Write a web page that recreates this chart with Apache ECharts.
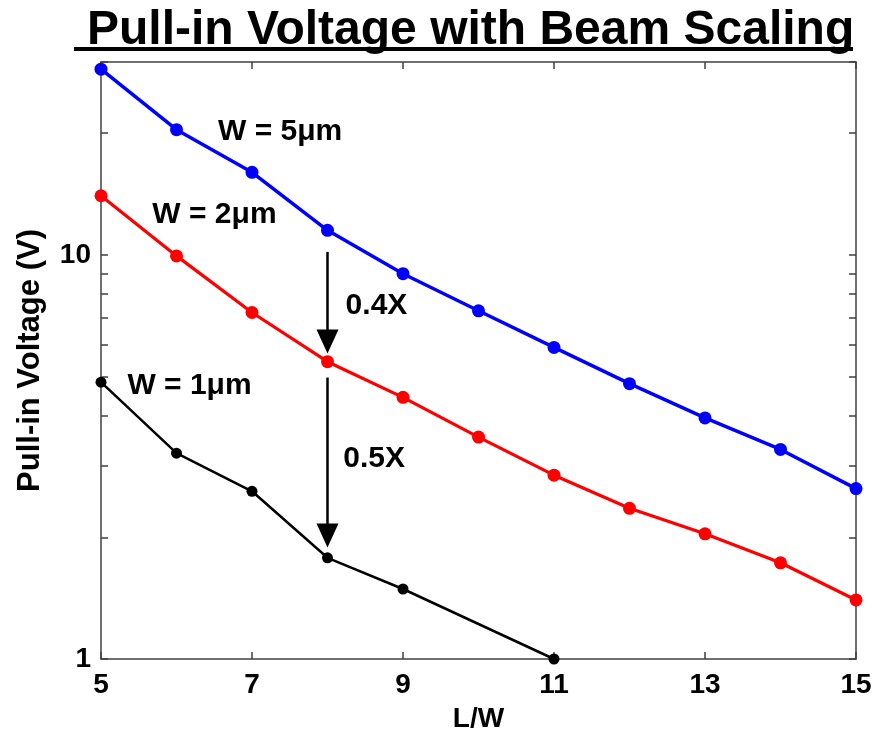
<!DOCTYPE html>
<html>
<head>
<meta charset="utf-8">
<script src="https://cdn.jsdelivr.net/npm/echarts@6/dist/echarts.min.js"></script>
<style>html,body{margin:0;padding:0;background:#fff}#c{width:875px;height:732px}</style>
</head>
<body>
<div id="c"></div>
<script>
const titleText = 'Pull-in Voltage with Beam Scaling';
const xName = 'L/W';
const yName = 'Pull-in Voltage (V)';
const lw = [5, 6, 7, 8, 9, 10, 11, 12, 13, 14, 15];
const w5 = [28.8, 20.4, 16.0, 11.5, 8.98, 7.27, 5.90, 4.80, 3.95, 3.30, 2.64];
const w2 = [14.0, 9.94, 7.20, 5.44, 4.44, 3.54, 2.85, 2.36, 2.04, 1.73, 1.40];
const lw1 = [5, 6, 7, 8, 9, 11];
const w1 = [4.84, 3.23, 2.60, 1.78, 1.49, 1.0];
const yLabelValues = [1, 10];
const yTickValues = [1, 2, 3, 4, 5, 6, 7, 8, 9, 10, 20, 30];
// annotations: [text, x, y]
const notes = [
  ['W = 5\u03bcm', 6.55, 20.2],
  ['W = 2\u03bcm', 5.68, 12.56],
  ['W = 1\u03bcm', 5.35, 4.75],
  ['0.4X', 8.24, 7.48],
  ['0.5X', 8.21, 3.13]
];
// arrows: [x, yFrom, yTo]
const arrows = [
  [8, 10.17, 6.10],
  [8, 4.97, 2.02]
];

const FONT = 'Liberation Sans, Arial, sans-serif';
const AX = '#404040';
const chart = echarts.init(document.getElementById('c'));

function pairs(xs, ys) { return xs.map((x, i) => [x, ys[i]]); }

const baseX = {
  type: 'value', min: 5, max: 15, interval: 2,
  splitLine: { show: false },
  axisLine: { show: true, onZero: false, lineStyle: { color: AX, width: 1.5 } },
  axisTick: { show: true, inside: true, length: 7, lineStyle: { color: AX, width: 1.5 } }
};
const baseY = {
  type: 'log', logBase: 10, min: 1, max: 30,
  splitLine: { show: false },
  axisLine: { show: true, lineStyle: { color: AX, width: 1.5 } },
  axisTick: { show: true, inside: true, length: 7, customValues: yTickValues, lineStyle: { color: AX, width: 1.5 } }
};

chart.setOption({
  animation: false,
  backgroundColor: '#fff',
  title: {
    text: titleText, left: 82, top: 2,
    textStyle: { fontFamily: FONT, fontWeight: 'bold', fontSize: 48, color: '#000' }
  },
  graphic: [{
    type: 'line', shape: { x1: 74, y1: 49, x2: 853, y2: 49 },
    style: { stroke: '#000', lineWidth: 4 }
  }],
  grid: { left: 101, top: 62, right: 19, bottom: 73, containLabel: false, outerBoundsMode: 'none' },
  xAxis: [
    Object.assign({}, baseX, {
      position: 'bottom', name: xName, nameLocation: 'middle', nameGap: 46,
      nameTextStyle: { fontFamily: FONT, fontWeight: 'bold', fontSize: 28, color: '#000' },
      axisLabel: { show: true, margin: 12, fontFamily: FONT, fontWeight: 'bold', fontSize: 28, color: '#000' }
    }),
    Object.assign({}, baseX, { position: 'top', axisLabel: { show: false } })
  ],
  yAxis: [
    Object.assign({}, baseY, {
      position: 'left', name: yName, nameLocation: 'middle', nameGap: 55,
      nameTextStyle: { fontFamily: FONT, fontWeight: 'bold', fontSize: 31, color: '#000' },
      axisLabel: { show: true, margin: 10, customValues: yLabelValues, fontFamily: FONT, fontWeight: 'bold', fontSize: 28, color: '#000' }
    }),
    Object.assign({}, baseY, { position: 'right', axisLabel: { show: false } })
  ],
  series: [
    {
      type: 'line', data: pairs(lw, w5), clip: false,
      symbol: 'circle', symbolSize: 13,
      lineStyle: { color: '#0000ff', width: 3.5 }, itemStyle: { color: '#0000ff' }
    },
    {
      type: 'line', data: pairs(lw, w2), clip: false,
      symbol: 'circle', symbolSize: 13,
      lineStyle: { color: '#ff0000', width: 3.2 }, itemStyle: { color: '#ff0000' }
    },
    {
      type: 'line', data: pairs(lw1, w1), clip: false,
      symbol: 'circle', symbolSize: 11,
      lineStyle: { color: '#000000', width: 2.5 }, itemStyle: { color: '#000000' },
      markPoint: {
        symbol: 'circle', symbolSize: 0, silent: true,
        label: {
          show: true, position: 'right', distance: 0,
          fontFamily: FONT, fontWeight: 'bold', fontSize: 30, color: '#000',
          formatter: p => p.name
        },
        data: notes.map(n => ({ name: n[0], coord: [n[1], n[2]] }))
      },
      markLine: {
        silent: true, symbol: ['none', 'triangle'], symbolSize: [22, 24],
        lineStyle: { color: '#000', width: 2.5, type: 'solid' },
        label: { show: false },
        data: arrows.map(a => [{ coord: [a[0], a[1]] }, { coord: [a[0], a[2]] }])
      }
    }
  ]
});
</script>
</body>
</html>
